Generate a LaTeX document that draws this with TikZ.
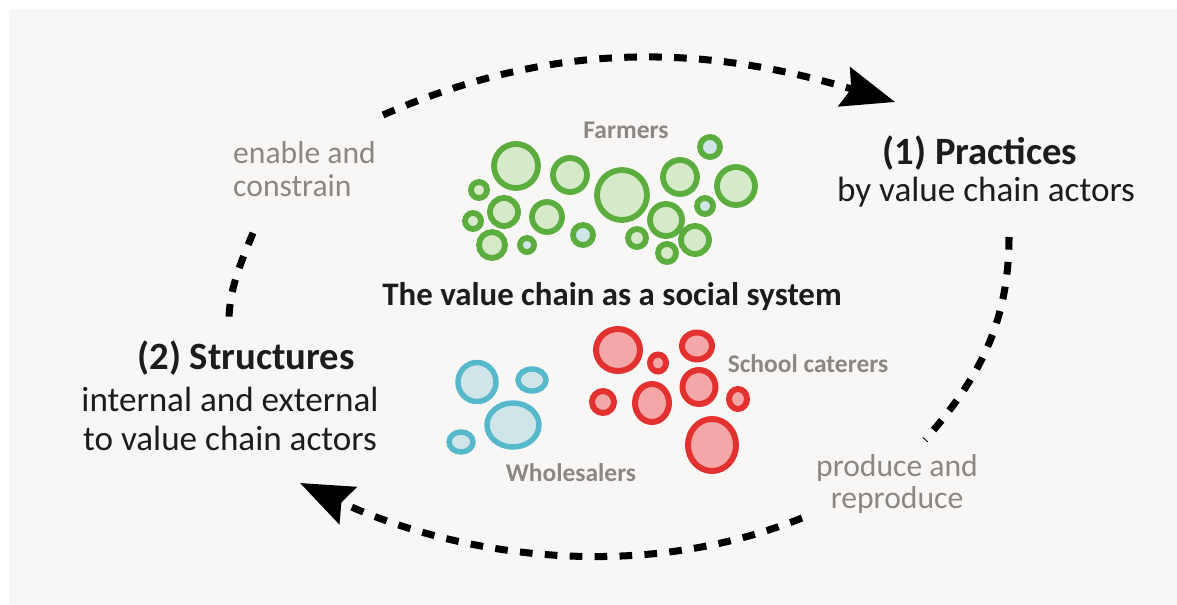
\documentclass[tikz,border=0pt]{standalone}
\usepackage{fontspec}
\setmainfont{Carlito}
\usetikzlibrary{arrows.meta}
\definecolor{bggray}{HTML}{F8F7F6}
\definecolor{textblack}{HTML}{1C1C1C}
\definecolor{labelgray}{HTML}{8C8784}
\definecolor{farmgreen}{HTML}{5BAE3E}
\definecolor{farmfill}{HTML}{D6E9C9}
\definecolor{paleblue}{HTML}{CFE5E8}
\definecolor{tradeblue}{HTML}{55B8CB}
\definecolor{tradefill}{HTML}{CFE5E8}
\definecolor{caterred}{HTML}{E2312F}
\definecolor{caterfill}{HTML}{F4A7A8}
\tikzset{
	maintext/.style={font=\fontsize{20}{22}\selectfont, text=textblack, align=center},
	headtext/.style={font=\fontsize{22}{24}\selectfont\bfseries, text=textblack},
	greytext/.style={font=\fontsize{18}{18.5}\selectfont, text=labelgray},
	grouptext/.style={font=\fontsize{14.5}{16}\selectfont\bfseries, text=labelgray},
	cycleline/.style={line width=4pt, dash pattern=on 7.2pt off 7pt},
	cyclearrow/.style={cycleline, -{Stealth[length=30pt,width=23pt,inset=4pt]}},
	farmer/.style={draw=farmgreen, fill=farmfill, line width=3.3pt},
	trader/.style={draw=tradeblue, fill=tradefill, line width=3.1pt},
	caterer/.style={draw=caterred, fill=caterfill, line width=3.4pt}
}
\begin{document}
\begin{tikzpicture}[x=0.02cm, y=-0.02cm]
	% Background
	\fill[white] (0,0) rectangle (1177,605);
	\fill[bggray] (9,9) rectangle (1177,605);
	\useasboundingbox (0,0) rectangle (1177,605);
	% Farmers
	\foreach \x/\y/\r in {516/166/22, 570/175/17, 622/195/25, 680/177/17, 736/186/19,
		479/190/8, 504/212/14, 547/217/15, 473/221/8, 492/245/13, 666/220/16,
		637/238/9, 695/240/14, 667/253/9}
		\draw[farmer] (\x,\y) circle (\r);
	\foreach \x/\y/\r in {710/147/10, 527/245/7, 583/235/10, 705/206/8}
		\draw[farmer, fill=paleblue] (\x,\y) circle (\r);
	% Wholesalers
	\foreach \x/\y/\rx/\ry in {477/382/19/19.5, 532/380/14/11, 513/425/26/22, 461/442/12/10}
		\draw[trader] (\x,\y) ellipse [x radius=\rx, y radius=\ry];
	% School caterers
	\foreach \x/\y/\rx/\ry in {618/350/22/21, 658/363/8/8.5, 697/346/15/13.5, 603/402/11/11,
		652/403/17/19, 699/387/16.5/17, 738/399/9/10, 712/445/24/26}
		\draw[caterer] (\x,\y) ellipse [x radius=\rx, y radius=\ry];
	% Labels
	\node[headtext] (practices) at (980,153) {(1) Practices};
	\node[maintext] (practicesbody) at (986,192) {by value chain actors};
	\node[headtext] (structures) at (246,358) {(2) Structures};
	\node[maintext] (structuresbody) at (230,419) {internal and external\\to value chain actors};
	\node[maintext, font=\fontsize{18.7}{22}\selectfont\bfseries] (system) at (612,297) {The value chain as a social system};
	\node[greytext, align=left, anchor=west] (enable) at (227,169) {enable and\\constrain};
	\node[greytext, align=center] (produce) at (897,484) {produce and\\reproduce};
	\node[grouptext] (farmers) at (626,130) {Farmers};
	\node[grouptext] (caterers) at (808,364) {School caterers};
	\node[grouptext] (wholesalers) at (571,473) {Wholesalers};
	% Cycle
	\coordinate (topstart) at (383,115);
	\coordinate (toptip) at (895,102);
	\coordinate (rightstart) at (1009,237);
	\coordinate (rightend) at (925,440);
	\coordinate (bottomstart) at (802,518);
	\coordinate (bottomtip) at (300,483);
	\coordinate (leftstart) at (253,233);
	\coordinate (leftend) at (229,320);
	\draw[cyclearrow] (topstart) .. controls (563,36) and (715,48) .. (toptip);
	\draw[cycleline] (rightstart) .. controls (1009,327) and (975,383) .. (rightend);
	\draw[cyclearrow] (bottomstart) .. controls (632,586) and (450,553.5) .. (bottomtip);
	\draw[cycleline] (leftstart) .. controls (241,262) and (229,290) .. (leftend);
\end{tikzpicture}
\end{document}
